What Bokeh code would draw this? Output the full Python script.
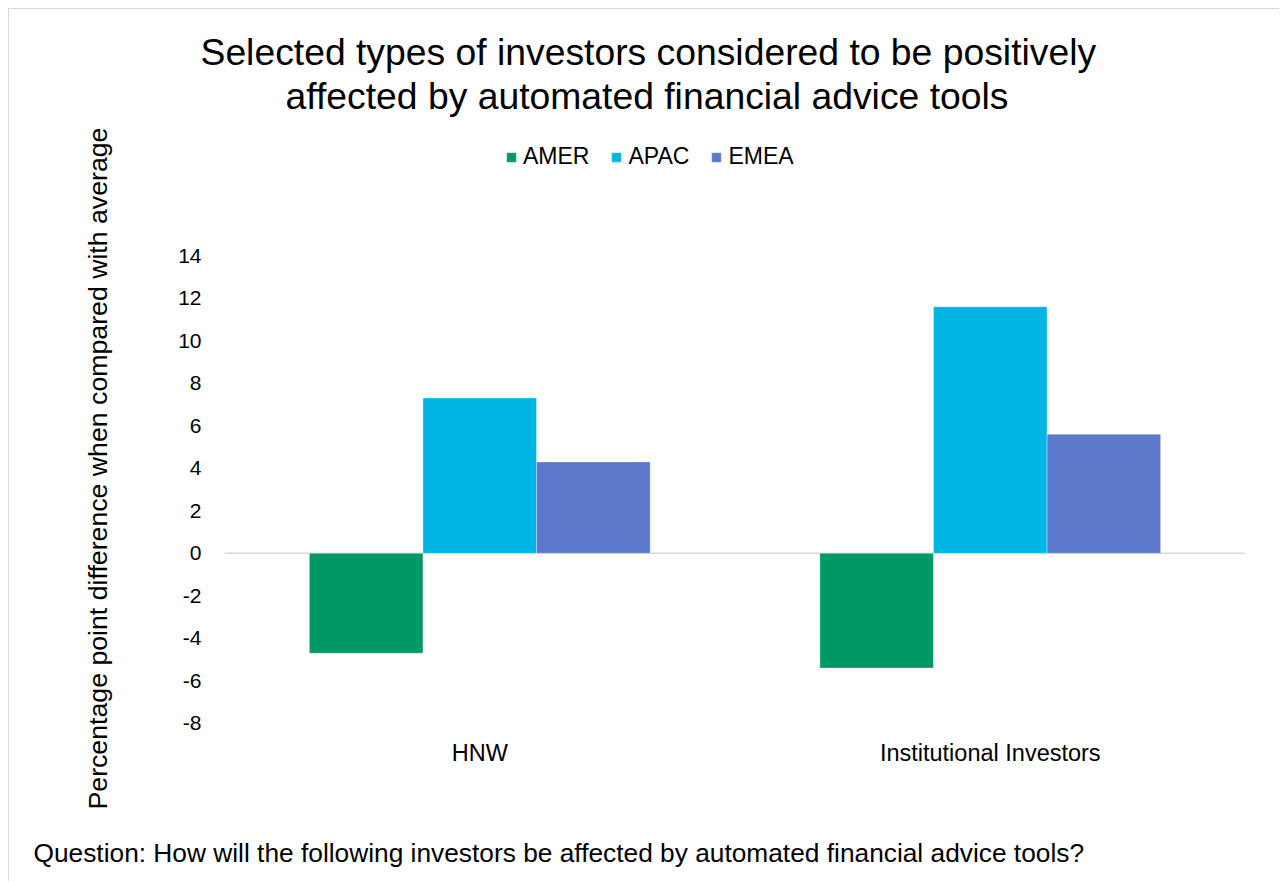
from bokeh.plotting import figure
from bokeh.models import (FactorRange, Range1d, FixedTicker, Span, Title, Legend,
                          LegendItem, ColumnDataSource)
from bokeh.core.properties import value
from bokeh.transform import dodge
from bokeh.embed import file_html
from bokeh.resources import INLINE

# ---- data ----
categories = ["HNW", "Institutional Investors"]
series = ["AMER", "APAC", "EMEA"]
amer = [-4.7, -5.4]
apac = [7.3, 11.6]
emea = [4.3, 5.6]
y_ticks = [-8, -6, -4, -2, 0, 2, 4, 6, 8, 10, 12, 14]
y_tick_labels = ["-8", "-6", "-4", "-2", "0", "2", "4", "6", "8", "10", "12", "14"]
title_lines = ["Selected types of investors considered to be positively",
               "affected by automated financial advice tools"]
y_label = "Percentage point difference when compared with average"
footer = "Question: How will the following investors be affected by automated financial advice tools?"
colors = ["#009865", "#00B5E3", "#5B78CA"]

FONT = "Liberation Sans"

source = ColumnDataSource(dict(cat=categories, AMER=amer, APAC=apac, EMEA=emea))

# frame: window x 224..1244, y 130..820 ; value 14 at y=255, value -8 at y=722
p = figure(width=1271, height=873,
           x_range=FactorRange(factors=categories, range_padding=0),
           y_range=Range1d(-12.616, 19.888),
           output_backend="svg", toolbar_location=None,
           min_border_left=215, min_border_right=35,
           min_border_top=121, min_border_bottom=61)
p.styles = {"margin-left": "8px", "margin-top": "8px",
            "border-top": "1px solid #d9d9d9", "border-left": "1px solid #d9d9d9"}
p.title.visible = False

bw = 0.2225
offsets = [-bw, 0.0, bw]
renderers = []
for s, off, c in zip(series, offsets, colors):
    r = p.vbar(x=dodge("cat", off, range=p.x_range), top=s, bottom=0, width=bw,
               source=source, fill_color=c, line_color="white", line_width=1, line_alpha=0.35)
    renderers.append(r)

p.add_layout(Span(location=0, dimension="width", line_color="#d9d9d9",
                  line_width=1.5, level="underlay"))

# category labels, placed just below the -8 level of the value axis
p.text(x="cat", y=-9.39, text="cat", source=source, text_font=value(FONT),
       text_font_size="23.5px", text_align="center", text_baseline="middle",
       text_color="black")

p.xgrid.visible = False
p.ygrid.visible = False
p.outline_line_color = None
p.xaxis.visible = False

ax = p.yaxis
ax.axis_line_color = None
ax.major_tick_line_color = None
ax.minor_tick_line_color = None
ax.major_tick_out = 0
ax.major_tick_in = 0
ax.major_label_text_font = FONT
ax.major_label_text_color = "black"
ax.ticker = FixedTicker(ticks=y_ticks)
ax.major_label_overrides = dict(zip(y_ticks, y_tick_labels))
ax.major_label_text_font_size = "21px"
ax.major_label_standoff = 23

legend = Legend(items=[LegendItem(label=s, renderers=[r]) for s, r in zip(series, renderers)],
                orientation="horizontal", location=(281, 651),
                glyph_width=12, glyph_height=12, label_standoff=6, spacing=21,
                padding=0, margin=0, border_line_alpha=0, background_fill_alpha=0,
                label_text_font=FONT, label_text_font_size="23px", label_text_color="black")
p.add_layout(legend)

p.add_layout(Title(text=title_lines[1], text_font=FONT, text_font_size="37.3px",
                   text_font_style="normal", text_color="black", align="left",
                   offset=61, standoff=27), "above")
p.add_layout(Title(text=title_lines[0], text_font=FONT, text_font_size="37.3px",
                   text_font_style="normal", text_color="black", align="left",
                   offset=-24, standoff=-27), "above")

p.add_layout(Title(text=y_label, text_font=FONT, text_font_size="26.7px",
                   text_font_style="normal", text_color="black", align="left",
                   offset=12, standoff=125), "left")

p.add_layout(Title(text=footer, text_font=FONT, text_font_size="26.3px",
                   text_font_style="normal", text_color="black", align="left",
                   offset=-191, standoff=28), "below")

open("out.html", "w").write(file_html(p, INLINE))
